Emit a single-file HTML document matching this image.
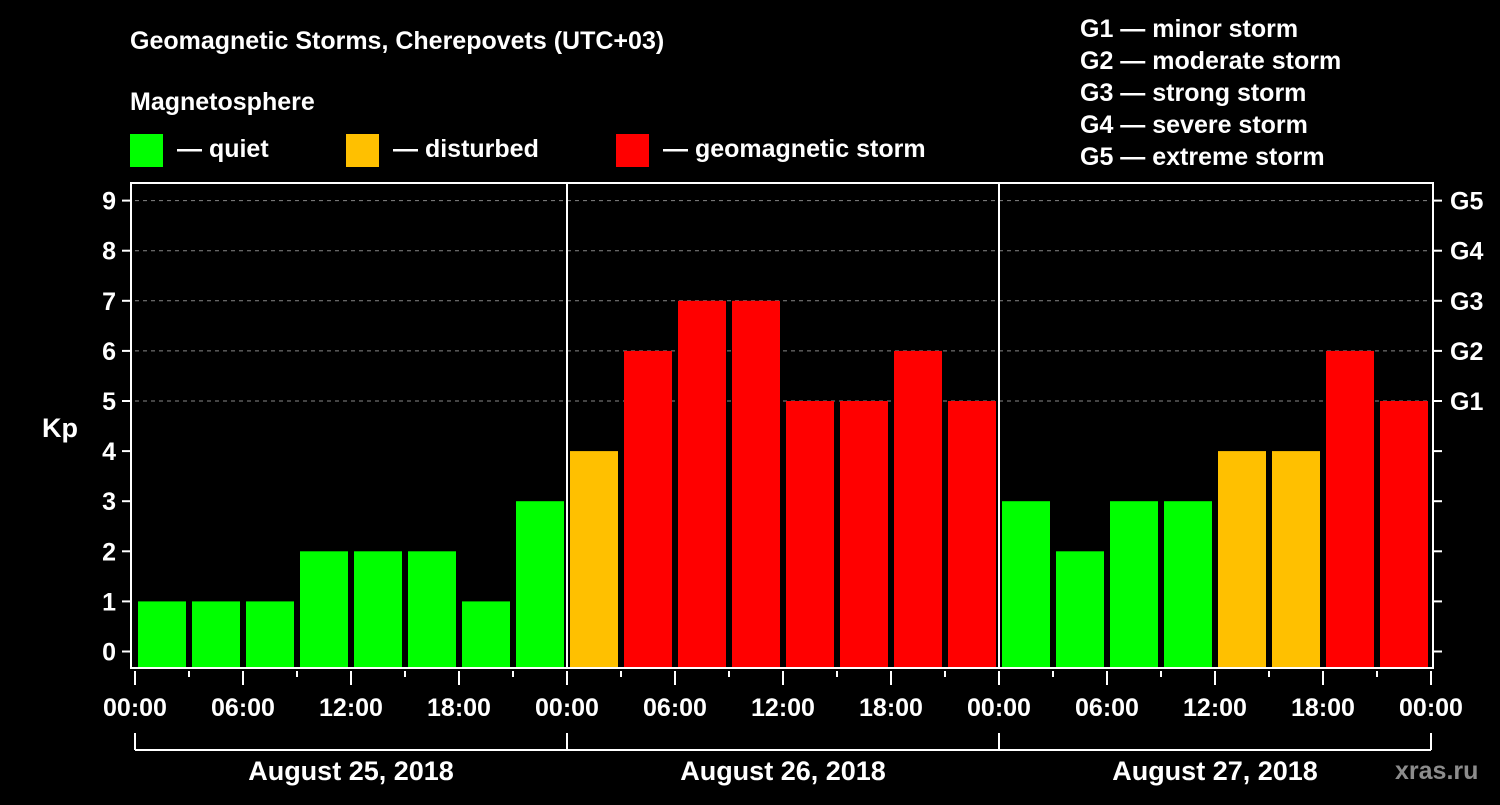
<!DOCTYPE html>
<html><head><meta charset="utf-8"><style>
body{margin:0;background:#000;width:1500px;height:800px;overflow:hidden;font-family:"Liberation Sans",sans-serif;}
svg text{font-family:"Liberation Sans",sans-serif;font-weight:bold;fill:#fff;}
</style></head><body>
<svg id="c" width="1500" height="800">
<text x="130" y="49" font-size="25">Geomagnetic Storms, Cherepovets (UTC+03)</text>
<text x="130" y="110" font-size="25">Magnetosphere</text>
<g><rect x="130" y="134" width="33" height="33" fill="#00ff00"/><text x="177" y="157" font-size="25">— quiet</text></g>
<g><rect x="346" y="134" width="33" height="33" fill="#ffc000"/><text x="393" y="157" font-size="25">— disturbed</text></g>
<g><rect x="616" y="134" width="33" height="33" fill="#ff0000"/><text x="663" y="157" font-size="25">— geomagnetic storm</text></g>
<g font-size="25">
<text x="1080" y="37">G1 — minor storm</text><text x="1080" y="69">G2 — moderate storm</text><text x="1080" y="101">G3 — strong storm</text><text x="1080" y="133">G4 — severe storm</text><text x="1080" y="165">G5 — extreme storm</text></g>
<text x="42" y="437" font-size="27">Kp</text>
<text x="1395" y="779" font-size="25" fill="#888" style="fill:#8c8c8c">xras.ru</text>
<g id="grid"></g><g id="bars"></g><g id="axes"></g>
</svg>
<script>
const values=[1,1,1,2,2,2,1,3, 4,6,7,7,5,5,6,5, 3,2,3,3,4,4,6,5];
const hourLabels=["00:00","06:00","12:00","18:00"];
const dayLabels=["August 25, 2018","August 26, 2018","August 27, 2018"];
const gLabels=["G1","G2","G3","G4","G5"];
const NS="http://www.w3.org/2000/svg";
const L=135,R=1431,T=183,B=667,y0=651.5,uy=50.1,slot=54;
const y=v=>y0-uy*v, x=i=>L+slot*i;
function mk(t,a,p){const e=document.createElementNS(NS,t);for(const k in a)e.setAttribute(k,a[k]);(p||document.getElementById('axes')).appendChild(e);return e;}
const grid=document.getElementById('grid'),bars=document.getElementById('bars');
for(let k=0;k<=9;k++){
 if(k>=5){const g=mk('line',{x1:L,x2:R,y1:y(k),y2:y(k),stroke:'#888','stroke-dasharray':'4,4','stroke-width':1},grid);
 
 }
 mk('line',{x1:122,x2:131,y1:y(k),y2:y(k),stroke:'#fff','stroke-width':2});
 mk('line',{x1:1433,x2:1442,y1:y(k),y2:y(k),stroke:'#fff','stroke-width':2});
 const t=mk('text',{x:116,y:y(k)+9,'font-size':25,'text-anchor':'end'});t.textContent=k;
 
 
}
gLabels.forEach((g,i)=>{const t=mk('text',{x:1450,y:y(5+i)+9,'font-size':25});t.textContent=g;
 
 });
values.forEach((v,i)=>{const c=v>=5?'#ff0000':v==4?'#ffc000':'#00ff00';
 const r=mk('rect',{x:x(i)+3,y:y(v),width:48,height:B-y(v),fill:c},bars);
 
 });
mk('rect',{x:131,y:183,width:1302,height:485,fill:'none',stroke:'#fff','stroke-width':2});
for(let d=1;d<3;d++)mk('line',{x1:L+432*d,x2:L+432*d,y1:183,y2:668,stroke:'#fff','stroke-width':2});
for(let i=0;i<=24;i++){
 mk('line',{x1:x(i),x2:x(i),y1:671,y2:i%2?677:685,stroke:'#fff','stroke-width':2});
 if(i%2==0){const t=mk('text',{x:x(i),y:716,'font-size':25,'text-anchor':'middle'});t.textContent=hourLabels[(i/2)%4];
 
 }
}
mk('line',{x1:L,x2:R,y1:750,y2:750,stroke:'#fff','stroke-width':2});
for(let d=0;d<=3;d++)mk('line',{x1:L+432*d,x2:L+432*d,y1:733,y2:750,stroke:'#fff','stroke-width':2});
dayLabels.forEach((s,d)=>{const t=mk('text',{x:L+432*d+216,y:780,'font-size':27,'text-anchor':'middle'});t.textContent=s;
 
 });
</script>
</body></html>
